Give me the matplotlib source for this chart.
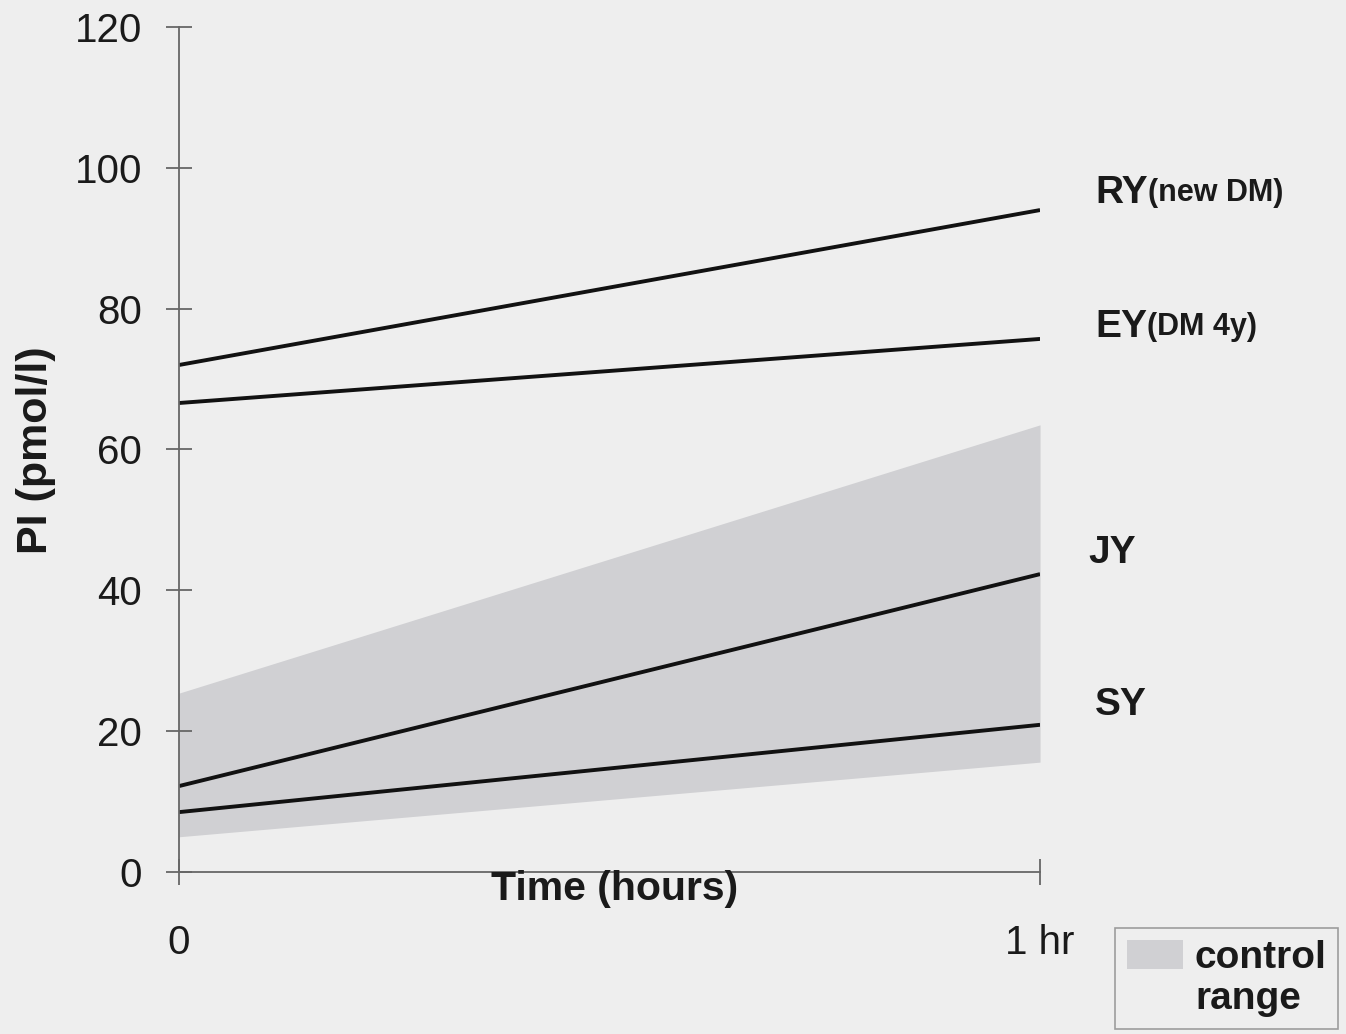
import matplotlib
matplotlib.use('Agg')
import matplotlib.pyplot as plt
from matplotlib.patches import Patch

plt.rcParams['font.family'] = ['Liberation Sans', 'DejaVu Sans']

# Tiempo (horas) y valores de PI (pmol/l) para cada paciente
time = [0, 1]
ry = [72.0, 94.0]
ey = [66.6, 75.7]
jy = [12.2, 42.3]
sy = [8.5, 20.9]
# Rango de los controles (minimo y maximo)
control_low = [5.0, 15.6]
control_high = [25.4, 63.5]

labels = [('RY', '(new DM)', 96.4), ('EY', '(DM 4y)', 77.4),
          ('JY', '', 45.3), ('SY', '', 23.7)]

bg = '#eeeeee'
txt = '#1a1a1a'
fig = plt.figure(figsize=(13.46, 10.34), dpi=100, facecolor=bg)
ax = fig.add_axes([0.133, 0.1567, 0.6397, 0.8172])
ax.set_facecolor(bg)

# Zona sombreada del rango control
band = ax.fill_between(time, control_low, control_high, color='#d0d0d3',
                       linewidth=0)

for serie in (ry, ey, jy, sy):
    ax.plot(time, serie, color='#111111', linewidth=2.8,
            solid_capstyle='butt')

ax.set_xlim(0, 1)
ax.set_ylim(0, 120)
ax.set_yticks(range(0, 121, 20))
ax.set_xticks(time)
ax.set_xticklabels(['0', '1 hr'])

for side in ('top', 'right'):
    ax.spines[side].set_visible(False)
for side in ('left', 'bottom'):
    ax.spines[side].set_color('#666666')
    ax.spines[side].set_linewidth(1.3)

ax.tick_params(axis='both', direction='inout', length=19, width=1.3,
               color='#666666', labelsize=29, labelcolor=txt)
ax.tick_params(axis='y', pad=17)
ax.tick_params(axis='x', pad=28)

# Etiquetas de los ejes
ax.text(0.506, -0.02, 'Time (hours)', transform=ax.transAxes,
        ha='center', va='center', fontsize=29.5, fontweight='bold',
        color=txt)
fig.text(0.027, 0.565, 'PI (pmol/l)', rotation=90, ha='center',
         va='center', fontsize=31, fontweight='bold', color=txt)

# Nombres de los pacientes a la derecha de cada linea
for name, extra, yv in labels:
    x0 = 1.056 if name == 'JY' else 1.064
    t = ax.text(x0, yv, name, ha='left', va='center', fontsize=28,
                fontweight='bold', color=txt, clip_on=False)
    if extra:
        ax.annotate(extra, xy=(1, 0.08), xycoords=t, ha='left',
                    va='bottom', fontsize=22, fontweight='bold',
                    color=txt)

# Leyenda: el cuadro gris va junto a la primera linea del texto
handles = [band, Patch(facecolor='none', edgecolor='none')]
leg = fig.legend(handles, ['control', 'range'], loc='upper left',
                 bbox_to_anchor=(0.8285, 0.1025),
                 prop={'weight': 'bold', 'size': 28},
                 frameon=True, fancybox=False, edgecolor='#888888',
                 facecolor=bg, handlelength=1.45, handleheight=0.8,
                 handletextpad=0.3, borderpad=0.3, labelspacing=0.12,
                 borderaxespad=0)
for t in leg.get_texts():
    t.set_color(txt)
leg.get_frame().set_linewidth(1.2)

fig.savefig('out.png', dpi=100, facecolor=bg)
